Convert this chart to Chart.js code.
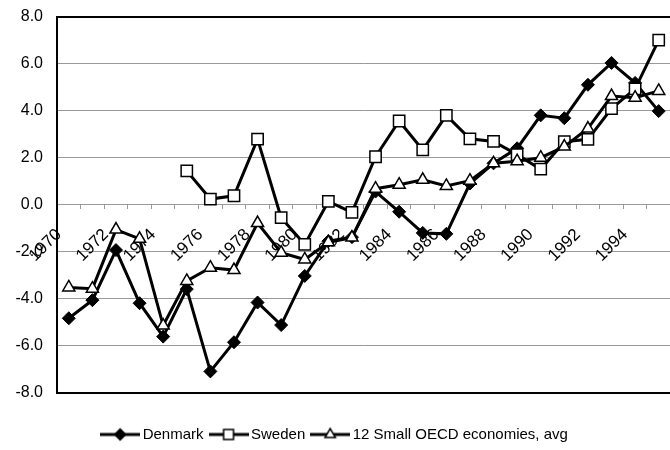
<!DOCTYPE html>
<html>
<head>
<meta charset="utf-8">
<script src="https://cdn.jsdelivr.net/npm/chart.js@4.4.1/dist/chart.umd.min.js"></script>
<style>
  html, body { margin: 0; padding: 0; background: #fff; overflow: hidden; }
  #wrap { width: 680px; height: 459px; margin-top: -7px; }
</style>
</head>
<body>
<div id="wrap"><canvas id="chart"></canvas></div>
<script>
// Years on the category axis
const years = ['1970', '1971', '1972', '1973', '1974', '1975', '1976', '1977', '1978', '1979',
               '1980', '1981', '1982', '1983', '1984', '1985', '1986', '1987', '1988', '1989',
               '1990', '1991', '1992', '1993', '1994', '1995'];
// Only every other year gets a label
const tickYears = ['1970', '1972', '1974', '1976', '1978', '1980', '1982', '1984', '1986',
                   '1988', '1990', '1992', '1994'];

const denmark = [-4.83, -4.06, -1.93, -4.19, -5.61, -3.59, -7.09, -5.85, -4.16, -5.12,
                 -3.03, -1.55, -1.38, 0.56, -0.30, -1.20, -1.24, 0.90, 1.76, 2.40,
                 3.80, 3.68, 5.10, 6.03, 5.18, 3.98];
const sweden = [null, null, null, null, null, 1.44, 0.24, 0.38, 2.79, -0.55,
                -1.69, 0.14, -0.33, 2.04, 3.56, 2.33, 3.80, 2.80, 2.69, 2.13,
                1.51, 2.68, 2.78, 4.09, 4.93, 7.00];
const oecd = [-3.52, -3.57, -1.06, -1.45, -5.14, -3.24, -2.68, -2.78, -0.78, -2.04,
              -2.33, -1.60, -1.40, 0.68, 0.85, 1.06, 0.80, 1.02, 1.76, 1.85,
              2.00, 2.47, 3.24, 4.62, 4.55, 4.84];

const yTicks = { min: -8, max: 8, step: 2 };

const fontFamily = '"Liberation Sans", Arial, sans-serif';

// Small line + marker swatch for the legend
function legendIcon(pointStyle, radius, fill) {
    const c = document.createElement('canvas');
    c.width = 40;
    c.height = 16;
    const g = c.getContext('2d');
    g.strokeStyle = '#000';
    g.lineWidth = 3;
    g.beginPath();
    g.moveTo(0, 8);
    g.lineTo(40, 8);
    g.stroke();
    g.fillStyle = fill;
    g.lineWidth = 1.5;
    Chart.helpers.drawPoint(g, { pointStyle: pointStyle, radius: radius, borderWidth: 1.5, rotation: 0 }, 20, 8);
    return c;
}

const ctx = document.getElementById('chart').getContext('2d');
new Chart(ctx, {
    type: 'line',
    data: {
        labels: years,
        datasets: [{
            label: 'Denmark',
            data: denmark,
            borderColor: '#000',
            backgroundColor: '#000',
            borderWidth: 3,
            pointStyle: 'rectRot',
            pointRadius: 6.5,
            pointBackgroundColor: '#000',
            pointBorderColor: '#000',
            pointBorderWidth: 1,
            order: 3
        }, {
            label: 'Sweden',
            data: sweden,
            borderColor: '#000',
            backgroundColor: '#fff',
            borderWidth: 3,
            pointStyle: 'rect',
            pointRadius: 8,
            pointBackgroundColor: '#fff',
            pointBorderColor: '#000',
            pointBorderWidth: 1.5,
            order: 2
        }, {
            label: '12 Small OECD economies, avg',
            data: oecd,
            borderColor: '#000',
            backgroundColor: '#fff',
            borderWidth: 3,
            pointStyle: 'triangle',
            pointRadius: 7,
            pointBackgroundColor: '#fff',
            pointBorderColor: '#000',
            pointBorderWidth: 1.5,
            order: 1
        }]
    },
    options: {
        responsive: true,
        maintainAspectRatio: false,
        animation: false,
        layout: {
            padding: { top: 8, left: 0, right: 7, bottom: 0 }
        },
        plugins: {
            tooltip: { enabled: false },
            legend: {
                display: true,
                position: 'bottom',
                title: {
                    display: true,
                    text: '',
                    font: { size: 1 },
                    padding: { top: 23, bottom: 0 }
                },
                labels: {
                    usePointStyle: true,
                    pointStyleWidth: 30,
                    boxHeight: 15,
                    padding: 10,
                    color: '#000',
                    font: { family: fontFamily, size: 15 },
                    generateLabels: (chart) => {
                        const icons = [
                            legendIcon('rectRot', 5.5, '#000'),
                            legendIcon('rect', 7, '#fff'),
                            legendIcon('triangle', 6, '#fff')
                        ];
                        return chart.data.datasets.map((ds, i) => ({
                            text: ds.label,
                            pointStyle: icons[i],
                            fillStyle: '#000',
                            strokeStyle: '#000',
                            lineWidth: 0,
                            hidden: false,
                            datasetIndex: i,
                            fontColor: '#000'
                        }));
                    }
                }
            }
        },
        scales: {
            x: {
                type: 'category',
                position: { y: 0 },
                offset: true,
                grid: {
                    display: true,
                    drawOnChartArea: false,
                    drawTicks: true,
                    tickLength: 4,
                    offset: true,
                    color: '#999'
                },
                border: { display: true, color: '#999', width: 1 },
                ticks: {
                    autoSkip: false,
                    minRotation: 45,
                    maxRotation: 45,
                    padding: 6,
                    color: '#000',
                    font: { family: fontFamily, size: 17 },
                    callback: function(value, index) {
                        const y = years[index];
                        // trailing spaces pull the rotated text down-left, like the original
                        return tickYears.includes(y) ? y + '   ' : '';
                    }
                }
            },
            y: {
                min: yTicks.min,
                max: yTicks.max,
                afterFit: (scale) => { scale.width = 57; },
                grid: {
                    drawTicks: false,
                    color: (c) => (c.tick && Math.abs(c.tick.value) === 8) ? '#000' : '#999',
                    lineWidth: (c) => (c.tick && Math.abs(c.tick.value) === 8) ? 2 : 1
                },
                border: { display: true, color: '#000', width: 2 },
                ticks: {
                    stepSize: yTicks.step,
                    padding: 14,
                    color: '#000',
                    font: { family: fontFamily, size: 16 },
                    callback: (v) => v.toFixed(1)
                }
            }
        }
    }
});
</script>
</body>
</html>
